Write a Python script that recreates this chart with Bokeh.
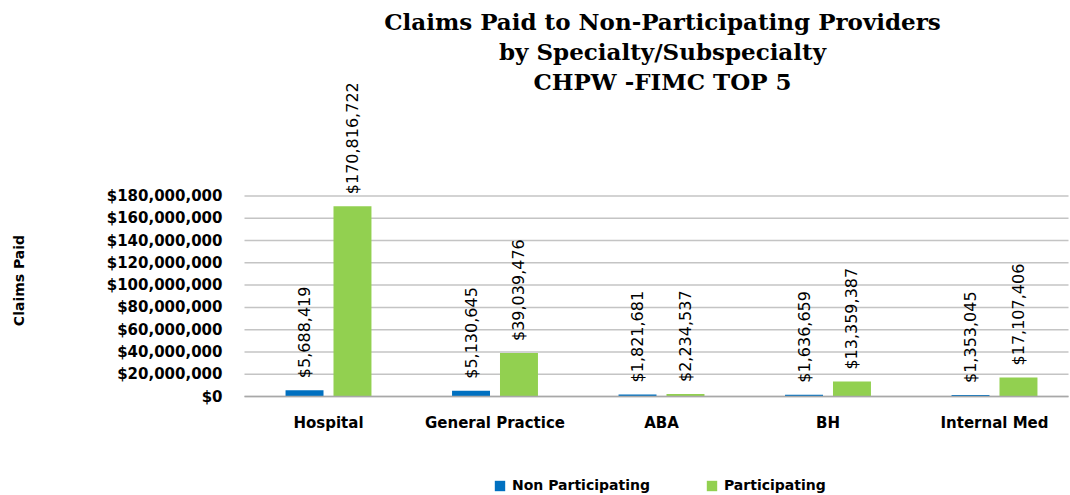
import numpy as np
from bokeh.plotting import figure
from bokeh.models import (ColumnDataSource, FixedTicker, Label, Legend, LegendItem,
                          Range1d, NumeralTickFormatter)
from bokeh.embed import file_html
from bokeh.resources import INLINE
from bokeh.core.properties import value

# ---------------- data ----------------
categories = ["Hospital", "General Practice", "ABA", "BH", "Internal Med"]
non_participating = [5688419, 5130645, 1821681, 1636659, 1353045]
participating = [170816722, 39039476, 2234537, 13359387, 17107406]
series_names = ["Non Participating", "Participating"]
y_ticks = [0, 20000000, 40000000, 60000000, 80000000, 100000000,
           120000000, 140000000, 160000000, 180000000]
title_lines = ["Claims Paid to Non-Participating Providers",
               "by Specialty/Subspecialty",
               "CHPW -FIMC TOP 5"]
y_axis_title = "Claims Paid"

# ---------------- style / layout (pixel geometry of the canvas) ----------------
colors = ["#0070C0", "#92D050"]
W, H = 1070, 495
AREA_LEFT, AREA_RIGHT, ZERO_Y = 244, 1068, 396      # plot area edges / zero line
CAT0_X, cat_px = 328, 166.5                          # first category centre, spacing
y_px = 200.5 / 180000000.0                           # pixels per dollar

def data_x(px):
    return (px - CAT0_X) / cat_px

def data_y(py):
    return (ZERO_Y - py) / y_px

# the frame covers the whole canvas; axes are pinned inside it
p = figure(width=W, height=H, output_backend="svg", toolbar_location=None,
           title=None,
           x_range=Range1d(data_x(0), data_x(W)), y_range=Range1d(data_y(H), data_y(0)),
           min_border_left=0, min_border_right=0, min_border_top=0, min_border_bottom=0)
p.outline_line_color = None
p.background_fill_color = "white"
p.border_fill_color = "white"
p.xgrid.visible = False
p.ygrid.visible = False

# horizontal gridlines at the axis ticks, spanning the plot area
p.segment(x0=[data_x(AREA_LEFT)] * len(y_ticks), x1=[data_x(AREA_RIGHT)] * len(y_ticks),
          y0=y_ticks, y1=y_ticks, line_color="#c4c4c4", line_width=1.5)

xs = np.arange(len(categories))
dodge = 0.144
bw = 0.228
src = ColumnDataSource(dict(
    x_np=xs - dodge, x_p=xs + dodge,
    np_val=non_participating, p_val=participating,
    np_lbl=["${:,}".format(v) for v in non_participating],
    p_lbl=["${:,}".format(v) for v in participating],
))

r_np = p.vbar(x="x_np", top="np_val", width=bw, source=src,
              fill_color=colors[0], line_color=None)
r_p = p.vbar(x="x_p", top="p_val", width=bw, source=src,
             fill_color=colors[1], line_color=None)

for xcol, ycol, lcol in (("x_np", "np_val", "np_lbl"), ("x_p", "p_val", "p_lbl")):
    p.text(x=xcol, y=ycol, text=lcol, source=src, angle=np.pi / 2,
           text_align="left", text_baseline="middle", y_offset=-12,
           text_font=value("DejaVu Sans"), text_font_size="16px",
           text_color="#000000")

# axes
p.xaxis.fixed_location = 0
p.xaxis.bounds = (data_x(AREA_LEFT), data_x(AREA_RIGHT))
p.xaxis.ticker = FixedTicker(ticks=list(xs))
p.xaxis.major_label_overrides = {int(i): c for i, c in zip(xs, categories)}
p.xaxis.major_tick_line_color = None
p.xaxis.minor_tick_line_color = None
p.xaxis.axis_line_color = "#a8a8a8"
p.xaxis.axis_line_width = 1.5
p.xaxis.major_label_text_font = "DejaVu Sans"
p.xaxis.major_label_text_font_style = "bold"
p.xaxis.major_label_text_font_size = "15px"
p.xaxis.major_label_text_color = "#000000"
p.xaxis.major_label_standoff = 11

p.yaxis.fixed_location = data_x(AREA_LEFT)
p.yaxis.bounds = (0, y_ticks[-1])
p.yaxis.ticker = FixedTicker(ticks=y_ticks)
p.yaxis.formatter = NumeralTickFormatter(format="$0,0")
p.yaxis.axis_line_color = None
p.yaxis.major_tick_line_color = None
p.yaxis.minor_tick_line_color = None
p.yaxis.major_label_text_font = "DejaVu Sans"
p.yaxis.major_label_text_font_style = "bold"
p.yaxis.major_label_text_font_size = "15px"
p.yaxis.major_label_text_color = "#000000"
p.yaxis.major_label_standoff = 16

# chart title (three centred lines)
for line, py in zip(title_lines, (21, 51, 81)):
    p.add_layout(Label(x=data_x(662), y=data_y(py), text=line,
                       text_align="center", text_baseline="middle",
                       text_font="DejaVu Serif", text_font_style="bold",
                       text_font_size="23px", text_color="#000000"))

# y axis title
p.add_layout(Label(x=data_x(18), y=data_y(280), text=y_axis_title, angle=np.pi / 2,
                   text_align="center", text_baseline="middle",
                   text_font="DejaVu Sans", text_font_style="bold",
                   text_font_size="14px", text_color="#000000"))

legend = Legend(items=[LegendItem(label=series_names[0], renderers=[r_np]),
                       LegendItem(label=series_names[1], renderers=[r_p])],
                orientation="horizontal", location=(493, 2),
                glyph_width=13, glyph_height=13, label_standoff=6, spacing=55,
                label_text_font="DejaVu Sans", label_text_font_style="bold",
                label_text_font_size="14px", label_text_color="#000000",
                border_line_color=None, background_fill_alpha=0,
                padding=0, margin=0)
p.add_layout(legend, "center")

open("out.html", "w").write(file_html(p, INLINE))
